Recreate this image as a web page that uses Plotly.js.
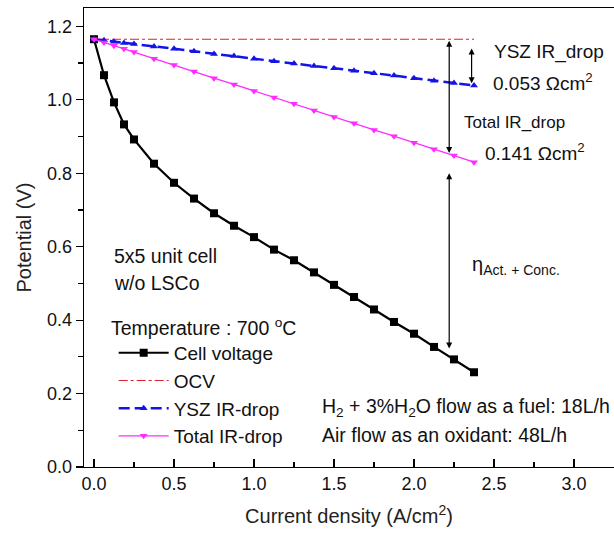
<!DOCTYPE html>
<html>
<head>
<meta charset="utf-8">
<script src="https://cdn.plot.ly/plotly-3.0.1.min.js"></script>
<style>html,body{margin:0;padding:0;overflow:hidden;background:#fff}</style>
</head>
<body>
<div id="chart" style="width:614px;height:537px"></div>
<script>
// Current density (A/cm2)
const current = [0, 0.0625, 0.125, 0.1875, 0.25, 0.375, 0.5, 0.625, 0.75, 0.875, 1.0, 1.125, 1.25, 1.375, 1.5, 1.625, 1.75, 1.875, 2.0, 2.125, 2.25, 2.375];
// Potential (V)
const cellVoltage = [1.165, 1.067, 0.993, 0.933, 0.892, 0.826, 0.774, 0.731, 0.691, 0.657, 0.626, 0.592, 0.563, 0.530, 0.496, 0.463, 0.429, 0.395, 0.363, 0.327, 0.293, 0.258];
const ocvX = [0, 2.375];
const ocv = [1.165, 1.165];
const yszDrop = [1.165, 1.162, 1.158, 1.155, 1.152, 1.145, 1.139, 1.132, 1.125, 1.119, 1.112, 1.105, 1.099, 1.092, 1.086, 1.079, 1.072, 1.066, 1.059, 1.052, 1.046, 1.039];
const totalDrop = [1.165, 1.156, 1.147, 1.139, 1.130, 1.112, 1.095, 1.077, 1.059, 1.042, 1.024, 1.006, 0.989, 0.971, 0.953, 0.936, 0.918, 0.901, 0.883, 0.865, 0.848, 0.830];
const seriesNames = ['Cell voltage', 'OCV', 'YSZ IR-drop', 'Total IR-drop'];
const xTicks = [0, 0.5, 1.0, 1.5, 2.0, 2.5, 3.0];
const xTickLabels = ['0.0', '0.5', '1.0', '1.5', '2.0', '2.5', '3.0'];
const yTicks = [0, 0.2, 0.4, 0.6, 0.8, 1.0, 1.2];
const yTickLabels = ['0.0', '0.2', '0.4', '0.6', '0.8', '1.0', '1.2'];

const FONT = 'Liberation Sans, Arial, sans-serif';

const traces = [
  {x: current, y: cellVoltage, name: seriesNames[0], mode: 'lines+markers',
   line: {color: '#000000', width: 2.2}, marker: {symbol: 'square', size: 8, color: '#000000'}},
  {x: ocvX, y: ocv, name: seriesNames[1], mode: 'lines',
   line: {color: '#e0202a', width: 1.1, dash: 'dashdot'}},
  {x: current, y: yszDrop, name: seriesNames[2], mode: 'lines+markers',
   line: {color: '#1414e6', width: 2.5, dash: '11px,5px'}, marker: {symbol: 'triangle-up', size: 7, color: '#1414e6'}},
  {x: current, y: totalDrop, name: seriesNames[3], mode: 'lines+markers',
   line: {color: '#ff2bff', width: 1.3}, marker: {symbol: 'triangle-down', size: 7, color: '#ff2bff'}}
];

function txt(text, x, y, size, extra) {
  return Object.assign({text: text, x: x, y: y, xref: 'x', yref: 'y', showarrow: false,
    xanchor: 'left', yanchor: 'middle', font: {family: FONT, size: size, color: '#111'}}, extra || {});
}
function arrow(x, y0, y1) {
  return {x: x, y: y1, ax: x, ay: y0, xref: 'x', yref: 'y', axref: 'x', ayref: 'y', text: '',
    showarrow: true, arrowhead: 2, startarrowhead: 2, arrowside: 'end+start', arrowsize: 1,
    arrowwidth: 1.2, arrowcolor: '#000', standoff: 0, startstandoff: 0};
}

const layout = {
  width: 614, height: 537,
  margin: {l: 84, r: 0, t: 8, b: 70},
  paper_bgcolor: '#fff', plot_bgcolor: '#fff',
  font: {family: FONT, size: 19, color: '#111'},
  showlegend: true,
  legend: {x: 0.056, y: 0.29, xanchor: 'left', yanchor: 'top', bgcolor: 'rgba(0,0,0,0)',
    font: {family: FONT, size: 19, color: '#111'}, itemwidth: 50},
  xaxis: {range: [-0.0625, 3.25], tickvals: xTicks, ticktext: xTickLabels, ticks: 'inside', ticklen: 8,
    tickwidth: 1.2, tickcolor: '#000', showline: true, linecolor: '#000', linewidth: 1.4, mirror: true,
    showgrid: false, zeroline: false,
    minor: {dtick: 0.25, tick0: 0, ticks: 'inside', ticklen: 5, tickcolor: '#000', tickwidth: 1.2, showgrid: false},
    tickfont: {family: FONT, size: 18, color: '#111'},
    title: {text: 'Current density (A/cm<sup>2</sup>)', font: {family: FONT, size: 20, color: '#222'}, standoff: 16}},
  yaxis: {range: [0, 1.25], tickvals: yTicks, ticktext: yTickLabels, ticks: 'outside', ticklen: 7,
    tickwidth: 1.2, tickcolor: '#000', showline: true, linecolor: '#000', linewidth: 1.4, mirror: false,
    showgrid: false, zeroline: false,
    minor: {dtick: 0.1, tick0: 0, ticks: 'outside', ticklen: 5, tickcolor: '#000', tickwidth: 1.2, showgrid: false},
    tickfont: {family: FONT, size: 18, color: '#111'},
    title: {text: 'Potential (V)', font: {family: FONT, size: 20, color: '#222'}, standoff: 10}},
  annotations: [
    arrow(2.22, 1.165, 0.855),
    arrow(2.36, 1.144, 1.045),
    arrow(2.22, 0.804, 0.323),
    txt('YSZ IR_drop', 2.49, 1.129, 19),
    txt('0.053 Ωcm<sup>2</sup>', 2.48, 1.048, 19),
    txt('Total IR_drop', 2.30, 0.939, 17),
    txt('0.141 Ωcm<sup>2</sup>', 2.43, 0.857, 19),
    txt('η<sub>Act. + Conc.</sub>', 2.35, 0.55, 20),
    txt('5x5 unit cell', 0.115, 0.574, 19.5),
    txt('w/o LSCo', 0.115, 0.501, 19.5),
    txt('Temperature : 700 <sup>o</sup>C', 0.094, 0.381, 19.5),
    txt('H<sub>2</sub> + 3%H<sub>2</sub>O flow as a fuel: 18L/h', 1.41, 0.161, 19.5),
    txt('Air flow as an oxidant: 48L/h', 1.41, 0.087, 19.5)
  ]
};

Plotly.newPlot('chart', traces, layout, {displayModeBar: false, staticPlot: true});
</script>
</body>
</html>
